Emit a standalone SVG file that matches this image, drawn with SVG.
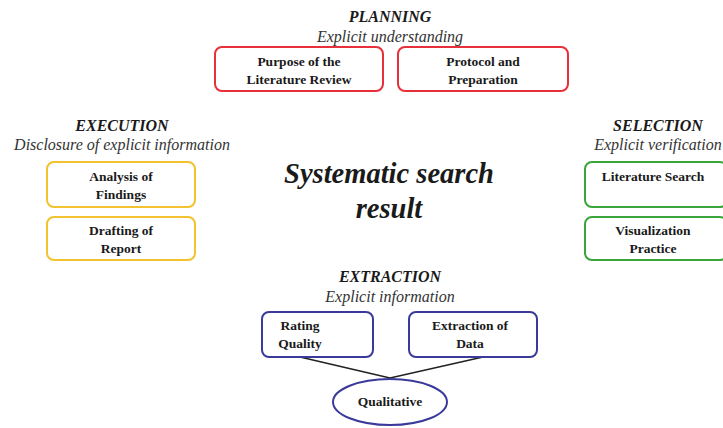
<svg xmlns="http://www.w3.org/2000/svg" width="723" height="428" viewBox="0 0 723 428">
<style>
text{font-family:"Liberation Serif","Times New Roman",serif;fill:#1a1a1a;text-anchor:middle}
.h{font-weight:bold;font-style:italic;font-size:16px}
.s{font-style:italic;font-size:16px;fill:#333}
.b{font-weight:bold;font-size:13.5px}
.box{fill:#fff;stroke-width:2}
.r{stroke:#e8303a}.y{stroke:#f2c230}.g{stroke:#3aa53a}.u{stroke:#3a3a9a}
.big{font-weight:bold;font-style:italic;font-size:28.5px}
</style>
<rect width="723" height="428" fill="#fff"/>
<g id="titles">
<text class="h" x="390" y="22">PLANNING</text>
<text class="s" x="390" y="42">Explicit understanding</text>
<text class="h" x="122" y="131">EXECUTION</text>
<text class="s" x="122" y="150">Disclosure of explicit information</text>
<text class="h" x="658" y="131">SELECTION</text>
<text class="s" x="658" y="150">Explicit verification</text>
<text class="h" x="390" y="282">EXTRACTION</text>
<text class="s" x="390" y="302">Explicit information</text>
</g>
<g id="center"><text class="big" x="389" y="183">Systematic search</text><text class="big" x="389" y="218">result</text></g>
<g id="connectors" stroke="#222" stroke-width="1.5" fill="none">
<line x1="300" y1="357" x2="390" y2="378"/>
<line x1="483" y1="357" x2="390" y2="378"/>
</g>
<g id="purpose"><rect class="box r" x="215" y="47" width="168" height="44" rx="7"/><text class="b" x="299" y="66">Purpose of the</text><text class="b" x="299" y="84">Literature Review</text></g>
<g id="protocol"><rect class="box r" x="398" y="47" width="170" height="44" rx="7"/><text class="b" x="483" y="66">Protocol and</text><text class="b" x="483" y="84">Preparation</text></g>
<g id="analysis"><rect class="box y" x="47" y="162" width="148" height="45" rx="7"/><text class="b" x="121" y="181">Analysis of</text><text class="b" x="121" y="199">Findings</text></g>
<g id="drafting"><rect class="box y" x="47" y="217" width="148" height="43" rx="7"/><text class="b" x="121" y="235">Drafting of</text><text class="b" x="121" y="253">Report</text></g>
<g id="litsearch"><rect class="box g" x="585" y="162" width="142" height="45" rx="7"/><text class="b" x="653" y="181">Literature Search</text></g>
<g id="visualization"><rect class="box g" x="585" y="217" width="142" height="43" rx="7"/><text class="b" x="653" y="235">Visualization</text><text class="b" x="653" y="253">Practice</text></g>
<g id="rating"><rect class="box u" x="262" y="312" width="111" height="45" rx="7"/><text class="b" x="300" y="330">Rating</text><text class="b" x="300" y="348">Quality</text></g>
<g id="extraction"><rect class="box u" x="409" y="312" width="128" height="45" rx="7"/><text class="b" x="470" y="330">Extraction of</text><text class="b" x="470" y="348">Data</text></g>
<g id="qualitative"><ellipse class="box u" cx="390" cy="402" rx="57" ry="23"/><text class="b" x="390" y="406">Qualitative</text></g>
</svg>
